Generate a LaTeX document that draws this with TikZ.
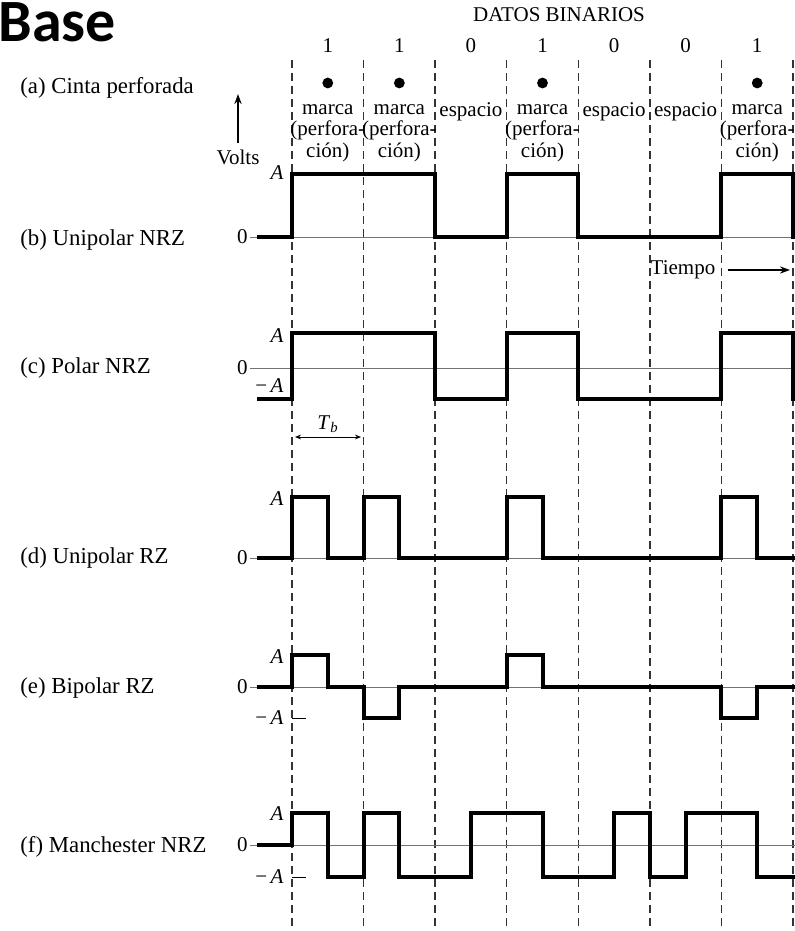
\documentclass[tikz,border=0pt]{standalone}
\usepackage{fontspec}
\setmainfont{Liberation Serif}
\newfontfamily\titlefont{Carlito}
\usepackage{tikz}
\usetikzlibrary{arrows.meta,positioning,calc}

\begin{document}
\begin{tikzpicture}[
  x=0.5pt,y=-0.5pt,
  every node/.style={font=\fontsize{10.5}{10.8}\selectfont,inner sep=1pt},
  lbl/.style={font=\fontsize{11.4}{13}\selectfont,anchor=west},
  lvl/.style={anchor=east},
  hole/.style={circle,fill=black,inner sep=0pt,minimum size=5.4pt},
  tape/.style={align=center},
  bitline/.style={draw=black!80,line width=0.65pt,dash pattern=on 4pt off 2.5pt},
  zeroline/.style={draw=black!55,line width=0.5pt},
  wave/.style={draw=black,line width=2pt,line join=miter},
  tick/.style={draw=black,line width=0.5pt},
  arr/.style={-{Stealth[length=5pt,width=3.6pt]},line width=0.8pt},
  darr/.style={{Stealth[length=3pt,width=2.4pt]}-{Stealth[length=3pt,width=2.4pt]},line width=0.5pt},
]
\useasboundingbox (0,0) rectangle (795,931);

%% ── Title ────────────────────────────────────────────────────────────────
\node[font=\titlefont\bfseries\fontsize{30}{32}\selectfont,anchor=base west,inner sep=0pt]
  (title) at (-2,42) {Base};

%% ── Bit grid and binary data ─────────────────────────────────────────────
\node (datos) at (559,15) {DATOS BINARIOS};
\foreach \i in {0,...,7}
  \draw[bitline] ({292+71.57*\i},60) -- ({292+71.57*\i},931);
\foreach \b [count=\i] in {1,1,0,1,0,0,1}
  \node (bit\i) at ({292+71.57*(\i-0.5)},46) {\b};

%% ── (a) Punched tape ─────────────────────────────────────────────────────
\node[lbl] (lbla) at (18,88) {(a) Cinta perforada};
\foreach \i in {1,2,4,7} {
  \node[hole] (hole\i) at ({292+71.57*(\i-0.5)},83) {};
  \node[tape] (mark\i) at ({292+71.57*(\i-0.5)},133) {marca\\(perfora-\\ción)};
}
\foreach \i in {3,5,6}
  \node[tape] (space\i) at ({292+71.57*(\i-0.5)},112) {espacio};

\node (volts) at (238,157) {Volts};
\coordinate (voltstip) at (238,94);
\draw[arr,line width=1.2pt] ([yshift=2pt]volts.north) -- (voltstip);

%% ── (b) Unipolar NRZ ─────────────────────────────────────────────────────
\node[lbl] (lblb) at (18,240) {(b) Unipolar NRZ};
\node[lvl] (b1) at (286,173) {\textit{A}};
\node[lvl] (b0) at (250,237) {0};
\draw[zeroline] (b0.east) -- (795,237);
\draw[wave] (257,237) -| (292,174) -| (435.1,237) -| (506.7,174) -| (578.3,237)
  -| (721.4,174) -| (793,237) -- (800,237);

\node (tiempo) at (683,270) {Tiempo};
\coordinate (tiempoend) at (790,270);
\draw[arr] ([xshift=5pt]tiempo.east) -- (tiempoend);

%% ── (c) Polar NRZ ────────────────────────────────────────────────────────
\node[lbl] (lblc) at (18,368) {(c) Polar NRZ};
\node[lvl] (c1) at (286,336) {\textit{A}};
\node[lvl] (c0) at (250,368) {0};
\node[lvl] (c2) at (286,386) {−\,\textit{A}};
\draw[zeroline] (c0.east) -- (795,368);
\draw[wave] (257,399) -| (292,333) -| (435.1,399) -| (506.7,333) -| (578.3,399)
  -| (721.4,333) -| (793,399) -- (800,399);

\coordinate (tbl) at (295,437);
\coordinate (tbr) at (361,437);
\draw[darr] (tbl) -- (tbr);
\node (tb) at (328,424) {\textit{T}\textsubscript{\textit{b}}};

%% ── (d) Unipolar RZ ──────────────────────────────────────────────────────
\node[lbl] (lbld) at (18,558) {(d) Unipolar RZ};
\node[lvl] (d1) at (286,499) {\textit{A}};
\node[lvl] (d0) at (250,558) {0};
\draw[zeroline] (d0.east) -- (795,558);
\draw[wave] (257,558) -| (292,497) -| (327.8,558) -| (363.6,497) -| (399.4,558)
  -| (506.7,497) -| (542.5,558) -| (721.4,497) -| (757.2,558) -- (800,558);

%% ── (e) Bipolar RZ ───────────────────────────────────────────────────────
\node[lbl] (lble) at (18,688) {(e) Bipolar RZ};
\node[lvl] (e1) at (286,657) {\textit{A}};
\node[lvl] (e0) at (250,687) {0};
\node[lvl] (e2) at (286,718) {−\,\textit{A}};
\draw[zeroline] (e0.east) -- (795,687);
\draw[tick] (292,718) -- (306,718);
\draw[wave] (257,687) -| (292,655) -| (327.8,687) -| (363.6,718) -| (399.4,687)
  -| (506.7,655) -| (542.5,687) -| (721.4,718) -| (757.2,687) -- (800,687);

%% ── (f) Manchester NRZ ───────────────────────────────────────────────────
\node[lbl] (lblf) at (18,847) {(f) Manchester NRZ};
\node[lvl] (f1) at (286,814) {\textit{A}};
\node[lvl] (f0) at (250,845) {0};
\node[lvl] (f2) at (286,877) {−\,\textit{A}};
\draw[zeroline] (f0.east) -- (795,845);
\draw[tick] (292,877) -- (306,877);
\draw[wave] (257,845) -| (292,813) -| (327.8,877) -| (363.6,813) -| (399.4,877)
  -| (470.9,813) -| (542.5,877) -| (614.1,813) -| (649.9,877) -| (685.7,813)
  -| (757.2,877) -- (800,877);

\end{tikzpicture}
\end{document}
